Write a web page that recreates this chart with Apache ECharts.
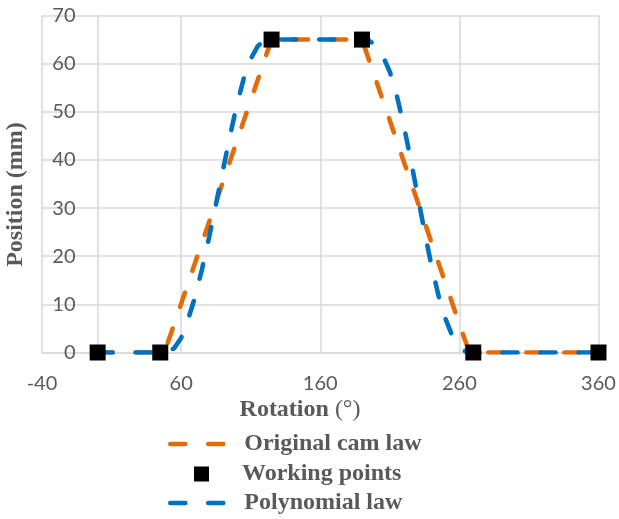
<!DOCTYPE html>
<html>
<head>
<meta charset="utf-8">
<script src="https://cdn.jsdelivr.net/npm/echarts@6/dist/echarts.min.js"></script>
<style>html,body{margin:0;padding:0;background:#fff;}#c{width:619px;height:519px;}</style>
</head>
<body>
<div id="c"></div>
<script>
// Original cam law (orange)
const origX = [0, 45, 48, 50, 60, 70, 80, 90, 100, 110, 120, 125, 190, 200, 210, 220, 230, 240, 250, 260, 267, 270, 360];
const origY = [0, 0, 0.3, 1.7, 10.1, 18.6, 27, 35.4, 43.9, 52.3, 60.8, 65, 65, 56.6, 48.2, 39.7, 31.3, 22.8, 14.4, 5.9, 0.2, 0, 0];
// Working points (black squares)
const workX = [0, 45, 125, 190, 270, 360];
const workY = [0, 0, 65, 65, 0, 0];
// Polynomial law (blue)
const polyX = [0, 45, 50, 55, 60, 65, 70, 75, 80, 85, 90, 95, 100, 105, 110, 115, 120, 125, 190, 195, 200, 205, 210, 215, 220, 225, 230, 235, 240, 245, 250, 255, 260, 265, 270, 360];
const polyY = [0, 0, 0.1, 0.9, 3.0, 6.9, 11.5, 17.3, 23.8, 30.7, 37.8, 44.8, 51.4, 56.9, 61.0, 63.6, 64.8, 65, 65, 64.8, 63.8, 61.6, 58.3, 53.4, 47.2, 40.1, 32.6, 25.0, 18.0, 11.8, 7.0, 3.4, 1.1, 0.1, 0, 0];

const seriesNames = ['Original cam law', 'Working points', 'Polynomial law'];
const xTitle = 'Rotation';
const xUnit = '(°)';
const yTitle = 'Position (mm)';

const zip = (a, b) => a.map((v, i) => [v, b[i]]);
const gray = '#595959';
const gridColor = '#d9d9d9';
const orange = '#E36C09';
const blue = '#0070C0';
const serif = '"Liberation Serif", "Times New Roman", serif';
const sans = 'Lato, "Liberation Sans", sans-serif';
const lineW = 4.6;
const dash = [15, 23];

const chart = echarts.init(document.getElementById('c'), null, {renderer: 'canvas'});
const legendText = {color: gray, fontFamily: serif, fontWeight: 'bold', fontSize: 24};
chart.setOption({
  animation: false,
  backgroundColor: '#fff',
  grid: {left: 42, right: 20.5, top: 15.5, bottom: 166.5, containLabel: false, outerBoundsMode: 'none'},
  xAxis: {
    type: 'value', min: -40, max: 360, interval: 100,
    axisLine: {show: true, onZero: true, lineStyle: {color: gridColor, width: 1.5}},
    axisTick: {show: false},
    axisLabel: {color: gray, fontFamily: sans, fontSize: 20, margin: 21},
    splitLine: {show: true, lineStyle: {color: gridColor, width: 1.5}}
  },
  yAxis: {
    type: 'value', min: 0, max: 70, interval: 10, offset: -55.5,
    axisLine: {show: true, onZero: false, lineStyle: {color: gridColor, width: 1.5}},
    axisTick: {show: false},
    axisLabel: {color: gray, fontFamily: sans, fontSize: 20, margin: 22},
    splitLine: {show: true, lineStyle: {color: gridColor, width: 1.5}}
  },
  legend: [
    {data: [seriesNames[0]], left: 168, top: 432, padding: 0, itemWidth: 54, itemHeight: 14, selectedMode: false,
     itemStyle: {opacity: 0},
     lineStyle: {color: orange, width: lineW, type: dash, cap: 'round', opacity: 1},
     textStyle: Object.assign({padding: [0, 0, 0, 15]}, legendText)},
    {data: [{name: seriesNames[1], icon: 'rect'}], left: 194, top: 462, padding: 0, itemWidth: 15, itemHeight: 15, selectedMode: false,
     itemStyle: {color: '#000', opacity: 1},
     textStyle: Object.assign({padding: [0, 0, 0, 28]}, legendText)},
    {data: [seriesNames[2]], left: 168, top: 491, padding: 0, itemWidth: 54, itemHeight: 14, selectedMode: false,
     itemStyle: {opacity: 0},
     lineStyle: {color: blue, width: lineW, type: dash, cap: 'round', opacity: 1},
     textStyle: Object.assign({padding: [0, 0, 0, 15]}, legendText)}
  ],
  graphic: [
    {type: 'text', x: 300, y: 410,
     style: {text: '{b|' + xTitle + ' }{n|' + xUnit + '}', align: 'center', verticalAlign: 'middle',
       rich: {b: {fontFamily: serif, fontWeight: 'bold', fontSize: 24, fill: gray, color: gray},
              n: {fontFamily: serif, fontWeight: 'normal', fontSize: 24, fill: gray, color: gray}}}},
    {type: 'text', x: 16, y: 194.5, rotation: Math.PI / 2,
     style: {text: yTitle, align: 'center', verticalAlign: 'middle', fill: gray,
       font: 'bold 24px ' + serif}}
  ],
  series: [
    {name: seriesNames[0], type: 'line', data: zip(origX, origY), symbol: 'none', z: 2,
     itemStyle: {color: orange},
     lineStyle: {color: orange, width: lineW, type: dash, cap: 'round', join: 'round'}},
    {name: seriesNames[2], type: 'line', data: zip(polyX, polyY), symbol: 'none', z: 3,
     itemStyle: {color: blue},
     lineStyle: {color: blue, width: lineW, type: dash, cap: 'round', join: 'round'}},
    {name: seriesNames[1], type: 'scatter', data: zip(workX, workY), symbol: 'rect', symbolSize: 16, z: 4,
     itemStyle: {color: '#000', opacity: 1}}
  ]
});
</script>
</body>
</html>
